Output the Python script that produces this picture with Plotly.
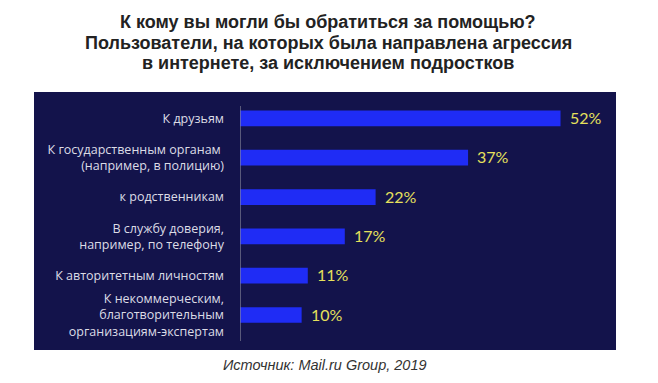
import plotly.graph_objects as go

categories = [
    "К друзьям",
    "К государственным органам <br>(например, в полицию)",
    "к родственникам",
    "В службу доверия,<br>например, по телефону",
    "К авторитетным личностям",
    "К некоммерческим,<br>благотворительным<br>организациям-экспертам",
]
values = [52, 37, 22, 17, 11, 10]
value_labels = ["52%", "37%", "22%", "17%", "11%", "10%"]

title_lines = ["К кому вы могли бы обратиться за помощью?",
               "Пользователи, на которых была направлена агрессия",
               "в интернете, за исключением подростков"]
source_text = "Источник: Mail.ru Group, 2019"

NAVY = "#13134b"
BLUE = "#1f2cf5"
YELLOW = "#e6e05c"

# the page adds an 8px body margin, so draw on a 650x375 canvas offset by 8px
OFF = 8
W, H = 658 - OFF, 383 - OFF
ml, mr, mt, mb = 240 - OFF, 42, 92 - OFF, 41 - OFF
pw = W - ml - mr
ph = H - mt - mb

fig = go.Figure()
fig.add_trace(go.Bar(
    y=categories, x=values, orientation="h",
    marker=dict(color=BLUE, line=dict(width=0)),
    width=0.4, hoverinfo="skip",
))

for c, v, t in zip(categories, values, value_labels):
    fig.add_annotation(x=v, y=c, text=t, showarrow=False, xanchor="left",
                       xshift=7, yshift=1,
                       font=dict(family="Lato, Open Sans, sans-serif", size=16, color=YELLOW))

# navy panel extending to the left under the category labels
fig.add_shape(type="rect", xref="paper", yref="paper",
              x0=-(240 - 34) / pw, x1=0, y0=0, y1=1,
              fillcolor=NAVY, line=dict(width=0), layer="below")
# thin grey axis line
fig.add_shape(type="line", xref="x", yref="paper", x0=0, x1=0,
              y0=9 / ph, y1=244 / ph, line=dict(color="#8a8a9a", width=1.2))

# title lines
for i, (line, yc) in enumerate(zip(title_lines, [22, 43, 63])):
    fig.add_annotation(xref="paper", yref="paper",
                       x=(328 - 240) / pw, y=1 + (92 - yc) / ph,
                       text="<b>" + line + "</b>", showarrow=False,
                       xanchor="center", yanchor="middle",
                       font=dict(family="Liberation Sans Narrow, Arial Narrow, Liberation Sans, sans-serif",
                                 size=18, color="#222222"))

fig.add_annotation(xref="paper", yref="paper", x=(325 - 240) / pw, y=-(357 - 342) / ph,
                   text="<i>" + source_text + "</i>", showarrow=False,
                   xanchor="center", yanchor="middle",
                   font=dict(family="Liberation Sans, Arial, sans-serif", size=14.5, color="#333333"))

fig.update_layout(
    width=W, height=H,
    margin=dict(l=ml, r=mr, t=mt, b=mb, pad=0),
    paper_bgcolor="white", plot_bgcolor=NAVY,
    showlegend=False,
    xaxis=dict(range=[0, 61], visible=False, fixedrange=True),
    yaxis=dict(range=[5.89, -0.67], showgrid=False, zeroline=False, showline=False,
               ticks="", ticklabelstandoff=15,
               tickfont=dict(family="Open Sans, sans-serif", size=12.5, color="#dcdce6")),
)

fig.write_html("out.html")
